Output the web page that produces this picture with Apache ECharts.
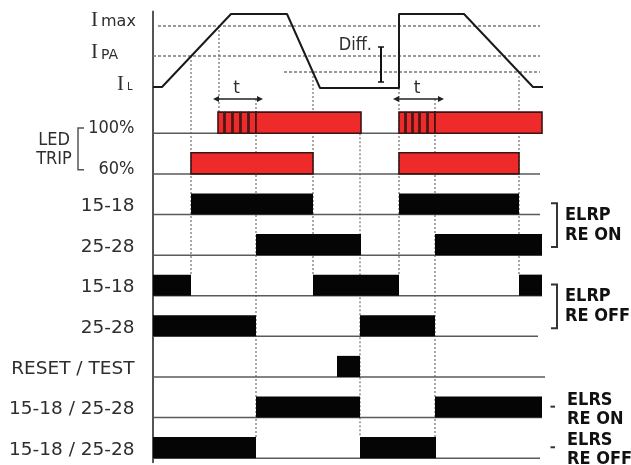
<!DOCTYPE html>
<html>
<head>
<meta charset="utf-8">
<script src="https://cdn.jsdelivr.net/npm/echarts@6/dist/echarts.min.js"></script>
<style>
html,body{margin:0;padding:0;background:#ffffff;}
#chart{width:631px;height:465px;}
</style>
</head>
<body>
<div id="chart"></div>
<script>
// ================= DATA =================
// common time axis (0 = left axis line)
const TIME_MIN = 0;
const TIME_MAX = 390;

// current waveform
const currentTimes  = [0, 9, 78, 134, 167, 246, 246, 311, 380, 390];
const currentValues = [3, 3, 76, 76, 2, 2, 76, 76, 3, 3];

// current levels
const levelNames  = ['max', 'PA', 'L'];      // I max, I PA, I L
const levelValues = [64, 34, 3];
const dottedLevels = [64, 34, 18];           // Imax, IPA, IPA - Diff
const dottedFrom   = [5, 0, 131];
const dottedTo     = [387, 387, 387];

// t windows
const tWindowStart = [60, 240];
const tWindowEnd   = [110, 291];

// Diff.
const diffTimes = [228];
const diffHigh  = [43];
const diffLow   = [8];

// digital rows
const rowLabels = ['100%', '60%', '15-18', '25-28', '15-18', '25-28', 'RESET / TEST', '15-18 / 25-28', '15-18 / 25-28'];
const rowEnds   = [389, 387, 387, 389, 389, 385, 392, 389, 387];

const led100Pulses = [[65,71],[72,79],[80,87],[88,95],[96,103],[246,252],[253,259],[260,266],[267,274],[275,282]];
const led100On     = [[103,208],[282,389]];
const led60On      = [[38,160],[246,366]];
const elrpOn1518   = [[38,160],[246,366]];
const elrpOn2528   = [[103,208],[282,389]];
const elrpOff1518  = [[0,38],[160,246],[366,389]];
const elrpOff2528  = [[0,103],[207,282]];
const resetTest    = [[184,207]];
const elrsOn       = [[103,207],[282,389]];
const elrsOff      = [[0,103],[207,283]];

// vertical event markers
const markerTimes     = [38, 66, 103, 160, 207, 246, 282, 366];
const markerFromLevel = [34, 64, -9, 18, null, 2, -9, 18];   // current level where marker begins (null = row 0)
const markerToRow     = [4, 0, 8, 4, 8, 4, 8, 4];

// right-side group labels
const rightLabels    = ['ELRP\nRE ON', 'ELRP\nRE OFF', 'ELRS\nRE ON', 'ELRS\nRE OFF'];
const rightLabelRows = [[2,3],[4,5],[7,7],[8,8]];

// ================= STYLE / LAYOUT =================
const FONT   = "'DejaVu Sans', 'Liberation Sans', sans-serif";
const FONT_C = "'DejaVu Sans Condensed', 'Liberation Sans Narrow', 'DejaVu Sans', sans-serif";
const FONT_S = "'Liberation Serif', 'DejaVu Serif', serif";
const BAR_H = 0.52;
const RED = '#EE2A2A', RED_EDGE = '#3b1414', BLACK = '#050505';
const AXIS_GRAY = '#555555', DOT_GRAY = '#7a7a7a', TEXT = '#2e2e2e';
const levelLabelLayout = [
  {iRight: 98,  iDy: -6, subLeft: 101, subDy: -4.6, subSize: 16},
  {iRight: 98,  iDy: -4, subLeft: 101, subDy: -1,   subSize: 14},
  {iRight: 124, iDy: -3, subLeft: 127, subDy: 0.5,  subSize: 10}
];

const chart = echarts.init(document.getElementById('chart'), null, {renderer: 'canvas'});

const rowSegments = [led100Pulses.concat(led100On), led60On, elrpOn1518, elrpOn2528, elrpOff1518, elrpOff2528, resetTest, elrsOn, elrsOff];
const barItems = [];
rowSegments.forEach((segs, r) => segs.forEach(s => barItems.push([r, s[0], s[1]])));

const option = {
  animation: false,
  backgroundColor: '#ffffff',
  grid: [
    {left: 153, top: 10, width: 390, height: 100},
    {left: 153, top: 11.4, width: 390, height: 450.9}
  ],
  xAxis: [
    {gridIndex: 0, type: 'value', min: TIME_MIN, max: TIME_MAX, show: false},
    {gridIndex: 1, type: 'value', min: TIME_MIN, max: TIME_MAX, show: false}
  ],
  yAxis: [
    {gridIndex: 0, type: 'value', min: -20, max: 80, show: false},
    {gridIndex: 1, type: 'value', min: -3, max: 8.1, inverse: true,
     axisLine: {show: true, onZero: false, lineStyle: {color: AXIS_GRAY, width: 2}},
     axisTick: {show: false}, axisLabel: {show: false}, splitLine: {show: false}}
  ],
  series: [
    // dotted reference levels
    {
      type: 'custom', xAxisIndex: 0, yAxisIndex: 0, clip: false, silent: true,
      data: dottedLevels.map((v, i) => [dottedFrom[i], dottedTo[i], v]),
      renderItem: (p, api) => {
        const a = api.coord([api.value(0), api.value(2)]);
        const b = api.coord([api.value(1), api.value(2)]);
        return {type: 'line', shape: {x1: a[0], y1: a[1], x2: b[0], y2: b[1]},
          style: {stroke: DOT_GRAY, lineWidth: 1.5, lineDash: [3, 2]}};
      }
    },
    // current waveform
    {
      type: 'line', xAxisIndex: 0, yAxisIndex: 0, silent: true,
      data: currentTimes.map((t, i) => [t, currentValues[i]]),
      symbol: 'none', lineStyle: {color: '#1a1a1a', width: 2}
    },
    // t windows
    {
      type: 'custom', xAxisIndex: 0, yAxisIndex: 0, clip: false, silent: true,
      data: tWindowStart.map((s, i) => [s, tWindowEnd[i]]),
      renderItem: (p, api) => {
        const a = api.coord([api.value(0), -9]);
        const b = api.coord([api.value(1), -9]);
        const c = api.coord([(api.value(0) + api.value(1)) / 2 - 1.5, 1]);
        const y = a[1];
        return {type: 'group', children: [
          {type: 'line', shape: {x1: a[0] + 2, y1: y, x2: b[0] - 2, y2: y}, style: {stroke: '#222', lineWidth: 1.5}},
          {type: 'polygon', shape: {points: [[a[0], y], [a[0] + 6, y - 3], [a[0] + 6, y + 3]]}, style: {fill: '#222'}},
          {type: 'polygon', shape: {points: [[b[0], y], [b[0] - 6, y - 3], [b[0] - 6, y + 3]]}, style: {fill: '#222'}},
          {type: 'text', x: c[0], y: c[1], style: {text: 't', fill: TEXT, font: '17px ' + FONT, align: 'center', verticalAlign: 'middle'}}
        ]};
      }
    },
    // Diff.
    {
      type: 'custom', xAxisIndex: 0, yAxisIndex: 0, clip: false, silent: true,
      data: diffTimes.map((t, i) => [t, diffHigh[i], diffLow[i]]),
      renderItem: (p, api) => {
        const a = api.coord([api.value(0), api.value(1)]);
        const b = api.coord([api.value(0), api.value(2)]);
        return {type: 'group', children: [
          {type: 'line', shape: {x1: a[0], y1: a[1], x2: b[0], y2: b[1]}, style: {stroke: '#111', lineWidth: 2}},
          {type: 'line', shape: {x1: a[0] - 3, y1: a[1], x2: a[0] + 3, y2: a[1]}, style: {stroke: '#111', lineWidth: 1.5}},
          {type: 'line', shape: {x1: b[0] - 3, y1: b[1], x2: b[0] + 3, y2: b[1]}, style: {stroke: '#111', lineWidth: 1.5}},
          {type: 'text', x: a[0] - 9, y: a[1] - 2, style: {text: 'Diff.', fill: TEXT, font: '18px ' + FONT_C, align: 'right', verticalAlign: 'middle'}}
        ]};
      }
    },
    // level labels
    {
      type: 'custom', xAxisIndex: 0, yAxisIndex: 0, clip: false, silent: true,
      data: levelValues.map(v => [0, v]),
      renderItem: (p, api) => {
        const L = levelLabelLayout[p.dataIndex];
        const y = api.coord([0, api.value(1)])[1];
        return {type: 'group', children: [
          {type: 'text', x: L.iRight, y: y + L.iDy, style: {text: 'I', fill: TEXT, font: '21px ' + FONT_S, align: 'right', verticalAlign: 'middle'}},
          {type: 'text', x: L.subLeft, y: y + L.subDy, style: {text: levelNames[p.dataIndex], fill: TEXT, font: L.subSize + 'px ' + FONT, align: 'left', verticalAlign: 'middle'}}
        ]};
      }
    },
    // row baselines
    {
      type: 'custom', xAxisIndex: 1, yAxisIndex: 1, clip: false, silent: true,
      data: rowEnds.map((e, r) => [r, e]),
      renderItem: (p, api) => {
        const r = api.value(0);
        const a = api.coord([0, r]), b = api.coord([api.value(1), r]);
        return {type: 'line', shape: {x1: a[0], y1: a[1], x2: b[0], y2: b[1]}, style: {stroke: '#5a5a5a', lineWidth: 1.5}};
      }
    },
    // bars
    {
      type: 'custom', xAxisIndex: 1, yAxisIndex: 1, clip: false, silent: true,
      data: barItems,
      renderItem: (p, api) => {
        const r = api.value(0);
        const a = api.coord([api.value(1), r - BAR_H]);
        const b = api.coord([api.value(2), r]);
        const led = r < 2;
        return {type: 'rect', shape: {x: a[0], y: a[1], width: b[0] - a[0], height: b[1] - a[1]},
          style: led ? {fill: RED, stroke: RED_EDGE, lineWidth: 1.6} : {fill: BLACK}};
      }
    },
    // row labels
    {
      type: 'custom', xAxisIndex: 1, yAxisIndex: 1, clip: false, silent: true,
      data: rowLabels.map((_, r) => [r]),
      renderItem: (p, api) => {
        const r = api.value(0);
        const led = r < 2;
        const pt = api.coord([-18.5, r - (led ? 0.12 : 0.2)]);
        return {type: 'text', x: pt[0], y: pt[1], style: {text: rowLabels[p.dataIndex], fill: TEXT,
          font: (led ? '18px ' + FONT_C : '18.5px ' + FONT), align: 'right', verticalAlign: 'middle'}};
      }
    },
    // LED TRIP label + bracket
    {
      type: 'custom', xAxisIndex: 1, yAxisIndex: 1, clip: false, silent: true,
      data: [[0, 1]],
      renderItem: (p, api) => {
        const r0 = api.value(0), r1 = api.value(1);
        const t = api.coord([-99, (r0 + r1) / 2 - 0.09]);
        const p1 = api.coord([-69, r0 - 0.13]), p2 = api.coord([-75, r0 - 0.13]);
        const p3 = api.coord([-75, r1 - 0.1]), p4 = api.coord([-69, r1 - 0.1]);
        return {type: 'group', children: [
          {type: 'polyline', shape: {points: [p1, p2, p3, p4]}, style: {stroke: '#555', lineWidth: 1.5, fill: null}},
          {type: 'text', x: t[0], y: t[1], style: {text: 'LED\nTRIP', fill: TEXT, font: '18px ' + FONT_C, lineHeight: 19, align: 'center', verticalAlign: 'middle'}}
        ]};
      }
    },
    // right labels
    {
      type: 'custom', xAxisIndex: 1, yAxisIndex: 1, clip: false, silent: true,
      data: rightLabelRows,
      renderItem: (p, api) => {
        const r0 = api.value(0), r1 = api.value(1);
        const children = [];
        if (r0 !== r1) {
          const q1 = api.coord([398, r0 - 0.28]), q2 = api.coord([404, r0 - 0.28]);
          const q3 = api.coord([404, r1 - 0.2]), q4 = api.coord([398, r1 - 0.2]);
          children.push({type: 'polyline', shape: {points: [q1, q2, q3, q4]}, style: {stroke: '#333', lineWidth: 2, fill: null}});
          const t = api.coord([412, (r0 + r1) / 2 - 0.23]);
          children.push({type: 'text', x: t[0], y: t[1], style: {text: rightLabels[p.dataIndex], fill: '#111', font: 'bold 18px ' + FONT_C, lineHeight: 20, align: 'left', verticalAlign: 'middle'}});
        } else {
          const d1 = api.coord([397.5, r0 - 0.27]), d2 = api.coord([402, r0 - 0.27]);
          children.push({type: 'line', shape: {x1: d1[0], y1: d1[1], x2: d2[0], y2: d2[1]}, style: {stroke: '#333', lineWidth: 2}});
          const t = api.coord([414, r0 - 0.2]);
          children.push({type: 'text', x: t[0], y: t[1], style: {text: rightLabels[p.dataIndex], fill: '#111', font: 'bold 18px ' + FONT_C, lineHeight: 19, align: 'left', verticalAlign: 'middle'}});
        }
        return {type: 'group', children: children};
      }
    }
  ]
};

chart.setOption(option);

// vertical dotted event markers spanning both grids
const markerGraphics = markerTimes.map((t, i) => {
  const top = markerFromLevel[i] !== null
    ? chart.convertToPixel({gridIndex: 0}, [t, markerFromLevel[i]])
    : chart.convertToPixel({gridIndex: 1}, [t, 0]);
  const bot = chart.convertToPixel({gridIndex: 1}, [t, markerToRow[i] - BAR_H]);
  return {type: 'line', z: 1, silent: true,
    shape: {x1: top[0], y1: top[1], x2: bot[0], y2: bot[1]},
    style: {stroke: DOT_GRAY, lineWidth: 1.3, lineDash: [2, 2]}};
});
chart.setOption({graphic: markerGraphics});
</script>
</body>
</html>
